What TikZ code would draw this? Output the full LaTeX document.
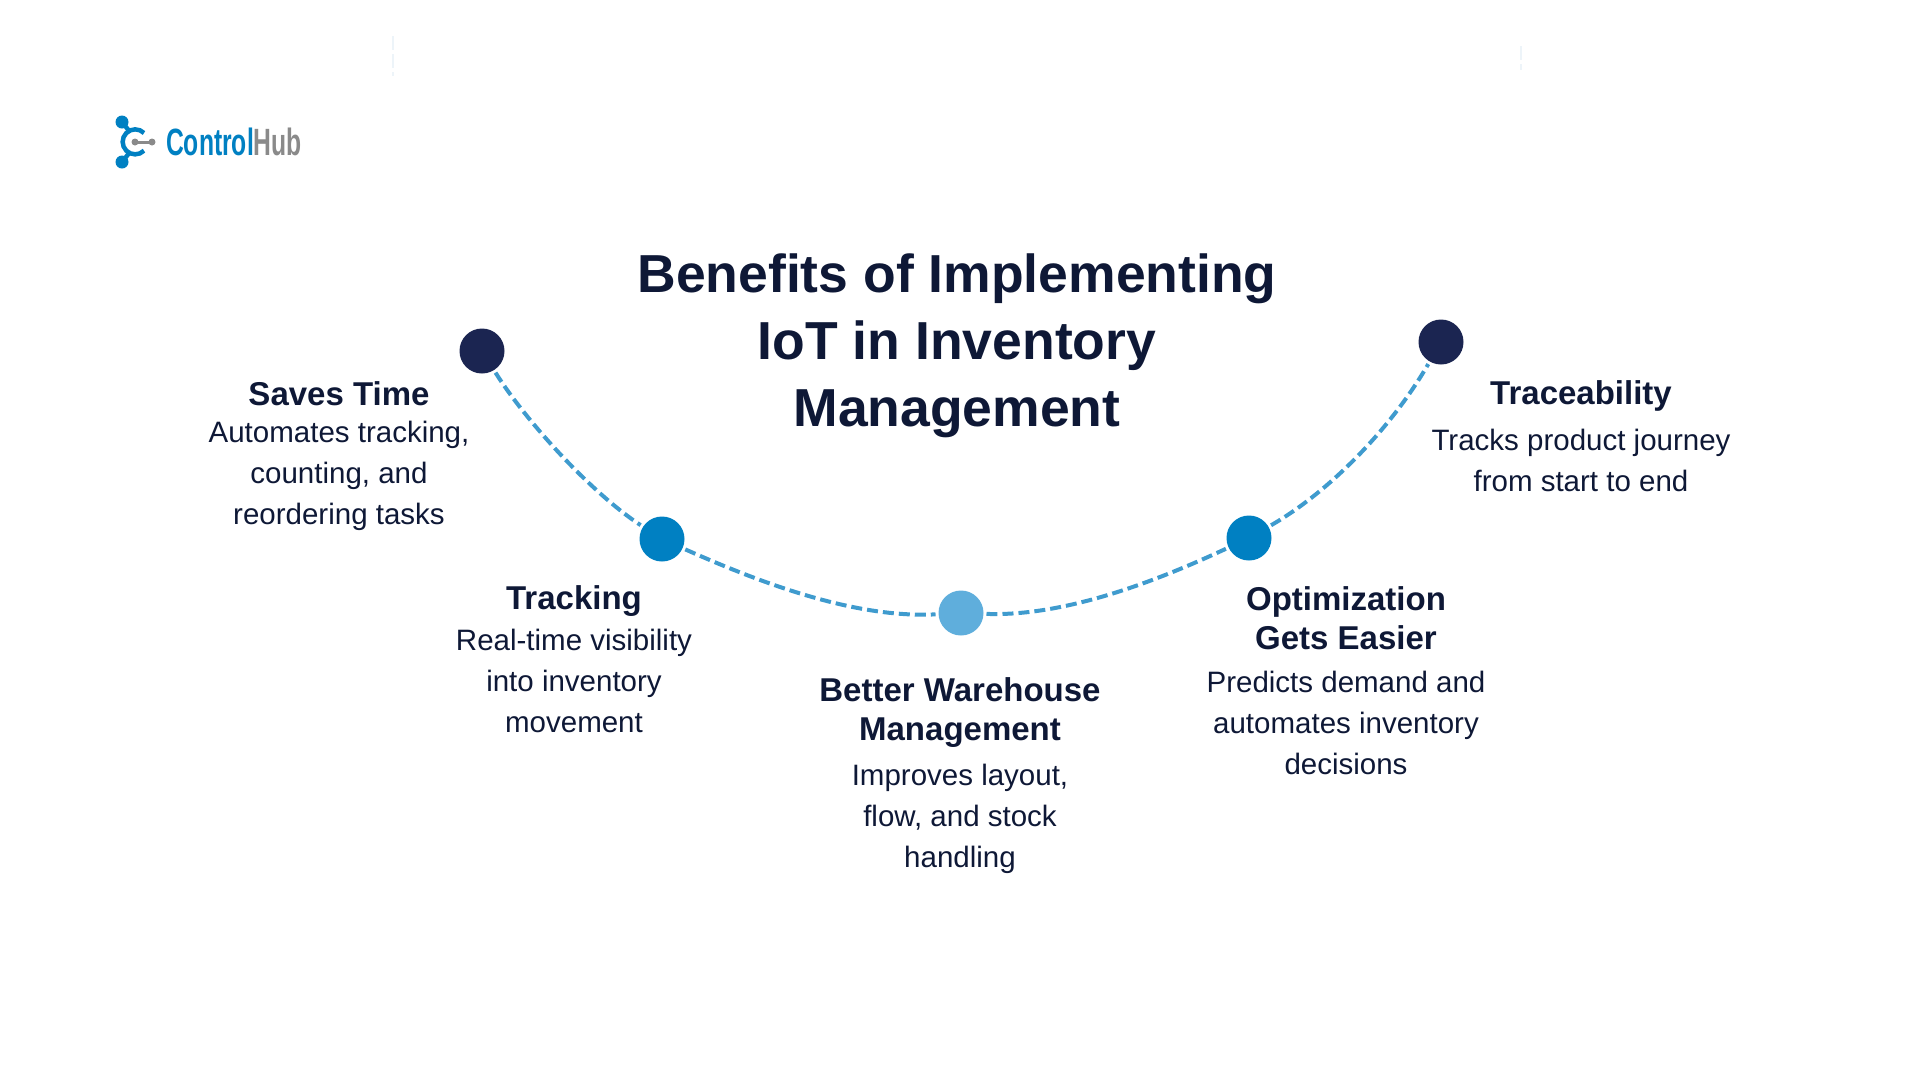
\documentclass[tikz,border=0pt]{standalone}
\usepackage{fontspec}
\setmainfont{Liberation Sans}
\definecolor{navy}{HTML}{1B2551}
\definecolor{inkdark}{HTML}{0E1836}
\definecolor{midblue}{HTML}{0080C2}
\definecolor{paleblue}{HTML}{5FAEDC}
\definecolor{linkblue}{HTML}{3F9BCE}
\definecolor{logogray}{HTML}{8A8A8A}
\definecolor{faintblue}{HTML}{EDF4F9}
\tikzset{
  titletext/.style={text=inkdark,align=center,font=\fontsize{53.5}{67}\selectfont\bfseries},
  headtext/.style={text=inkdark,align=center,font=\fontsize{33}{39}\selectfont\bfseries},
  bodytext/.style={text=inkdark,align=center,font=\fontsize{29.5}{41}\selectfont},
  dot/.style={circle,minimum size=45pt,inner sep=0pt,outer sep=3pt},
  linkline/.style={draw=linkblue,line width=4pt,dash pattern=on 11pt off 5pt},
  faintline/.style={draw=faintblue,line width=1.5pt,dash pattern=on 14pt off 4pt},
}
\begin{document}
\begin{tikzpicture}[x=1pt,y=-1pt]
\useasboundingbox (0,0) rectangle (1920,1080);

% Faint marks along the top
\coordinate (marka) at (393,36);
\coordinate (markb) at (393,76);
\coordinate (markc) at (1521,46);
\coordinate (markd) at (1521,70);
\draw[faintline] (marka) -- (markb);
\draw[faintline] (markc) -- (markd);

% Logo
\draw[midblue,line width=4.5pt] (122,122) -- (130,132);
\draw[midblue,line width=4.5pt] (122,162) -- (130,152);
\draw[midblue,line width=4.5pt] (144,133) arc (-45:-315:12.5);
\draw[logogray,line width=3pt] (135,142) -- (152,142);
\fill[midblue] (122,122) circle (6.5);
\fill[midblue] (122,162) circle (6.5);
\fill[logogray] (135,142) circle (3.5);
\fill[logogray] (152,142) circle (3.5);
\node[anchor=west,inner sep=0pt,xscale=0.65,font=\fontsize{38}{38}\selectfont\bfseries] (logotext) at (166,142)
  {\textcolor{midblue}{Control}\textcolor{logogray}{Hub}};

% Title
\node[titletext] (title) at (957,346) {Benefits of Implementing\\IoT in Inventory\\Management};

% Dots on the curve
\node[dot,fill=navy] (savesdot) at (482,351) {};
\node[dot,fill=midblue] (trackdot) at (662,539) {};
\node[dot,fill=paleblue] (wheredot) at (961,613) {};
\node[dot,fill=midblue] (optimdot) at (1249,538) {};
\node[dot,fill=navy] (tracedot) at (1441,342) {};

% Dashed curve
\draw[linkline] (savesdot) to[out=-58,in=147,looseness=0.7] (trackdot);
\draw[linkline] (trackdot) to[out=-24,in=183,looseness=0.8] (wheredot);
\draw[linkline] (wheredot) to[out=-2,in=-155,looseness=0.8] (optimdot);
\draw[linkline] (optimdot) to[out=30,in=-120,looseness=0.8] (tracedot);

% Labels
\node[headtext] (saveshead) at (339,394) {Saves Time};
\node[bodytext] (savesbody) at (339,476) {Automates tracking,\\counting, and\\reordering tasks};

\node[headtext] (trackhead) at (574,601) {Tracking};
\node[bodytext] (trackbody) at (574,681) {Real-time visibility\\into inventory\\movement};

\node[headtext] (wherehead) at (960,713) {Better Warehouse\\Management};
\node[bodytext] (wherebody) at (960,819) {Improves layout,\\flow, and stock\\handling};

\node[headtext] (optimhead) at (1346,618) {Optimization\\Gets Easier};
\node[bodytext] (optimbody) at (1346,723) {Predicts demand and\\automates inventory\\decisions};

\node[headtext] (tracehead) at (1581,396) {Traceability};
\node[bodytext] (tracebody) at (1581,460) {Tracks product journey\\from start to end};

\end{tikzpicture}
\end{document}
